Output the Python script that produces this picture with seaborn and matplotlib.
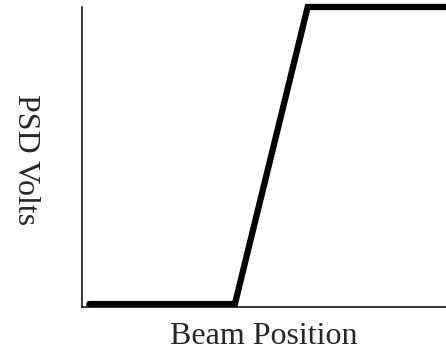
import matplotlib
matplotlib.use("Agg")
import matplotlib.pyplot as plt
import pandas as pd
import seaborn as sns

# step response: beam position vs PSD output
beam_position = [0.2, 4.2, 6.2, 10.0]
psd_volts = [0.0, 0.0, 1.0, 1.0]


def main() -> None:
    sns.set_theme(style="white")
    plt.rcParams["font.family"] = ["Liberation Serif", "DejaVu Serif"]

    df = pd.DataFrame({"pos": beam_position, "volts": psd_volts})

    fig = plt.figure(figsize=(4.46, 3.52), dpi=100)
    ax = fig.add_axes([82 / 446, (352 - 307) / 352, 364 / 446, 300 / 352])
    sns.lineplot(data=df, x="pos", y="volts", ax=ax, color="black",
                 linewidth=4.5, sort=False, clip_on=False)
    ax.lines[0].set_solid_joinstyle("miter")

    ax.set_xlim(0, 10)
    ax.set_ylim(-0.01, 1.0)
    ax.set_xticks([])
    ax.set_yticks([])
    for side in ["top", "right"]:
        ax.spines[side].set_visible(False)
    for side in ["left", "bottom"]:
        ax.spines[side].set_color("black")
        ax.spines[side].set_linewidth(1.1)

    ax.set_xlabel("Beam Position", fontsize=23, va="center")
    ax.xaxis.set_label_coords(0.5, -0.097)
    ax.set_ylabel("PSD Volts", fontsize=23, rotation=270, va="center", ha="center")
    ax.yaxis.set_label_coords(-0.154, 0.49)

    fig.savefig("out.png", dpi=100)
    plt.close(fig)


if __name__ == "__main__":
    main()
